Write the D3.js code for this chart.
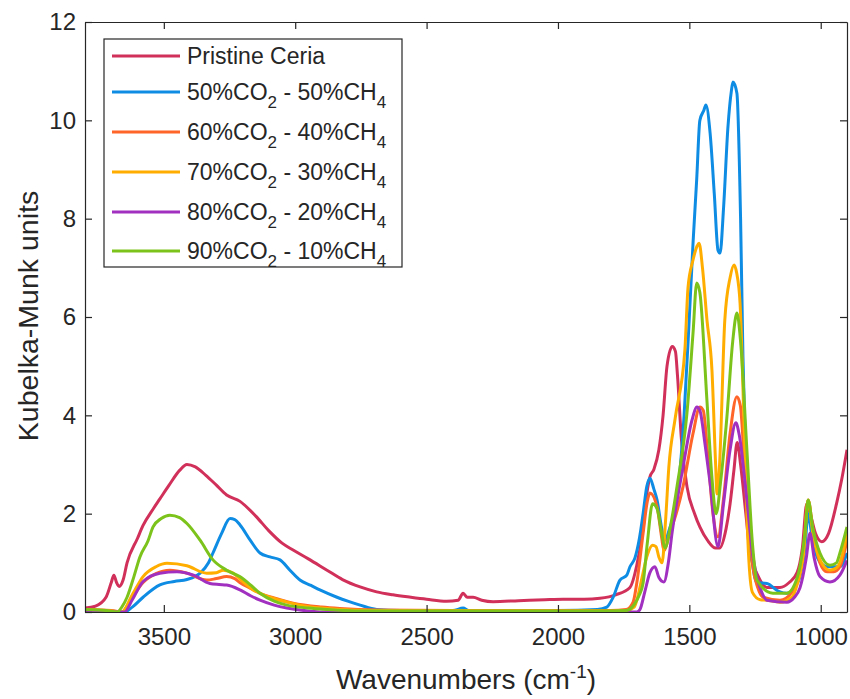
<!DOCTYPE html>
<html><head><meta charset="utf-8">
<script src="https://cdn.jsdelivr.net/npm/d3@7"></script>
<style>body{margin:0;background:#fff;} text{font-family:"Liberation Sans",Arial,sans-serif;fill:#262626;}</style>
</head><body><svg id="c" width="850" height="699"></svg>
<script>
// ---- data ----
const seriesNames = ["Pristine Ceria","50%CO2 - 50%CH4","60%CO2 - 40%CH4","70%CO2 - 30%CH4","80%CO2 - 20%CH4","90%CO2 - 10%CH4"];
const seriesColors = ["#D0305A","#0E8CE4","#FF6428","#FFAE00","#A130C0","#7CC31C"];
const xTicks = [3500,3000,2500,2000,1500,1000];
const yTicks = [0,2,4,6,8,10,12];

const pristineWn = [3800,3760,3720,3700,3690,3680,3670,3655,3640,3600,3580,3540,3515,3480,3440,3412,3380,3340,3300,3261,3210,3150,3100,3050,3008,2950,2879,2820,2753,2690,2628,2560,2500,2424,2380,2361,2345,2323,2290,2247,2150,2050,1981,1900,1840,1780,1726,1700,1676,1662,1650,1635,1616,1600,1585,1565,1553,1545,1530,1509,1480,1460,1430,1400,1385,1360,1345,1330,1318,1305,1285,1269,1240,1205,1155,1120,1090,1070,1053,1040,1020,996,970,940,920,900];
const pristineVal = [0.08,0.12,0.3,0.6,0.75,0.6,0.52,0.65,1.0,1.5,1.75,2.1,2.3,2.58,2.88,3.0,2.95,2.78,2.58,2.38,2.25,1.95,1.65,1.4,1.26,1.08,0.85,0.66,0.51,0.41,0.35,0.3,0.26,0.22,0.24,0.38,0.3,0.3,0.24,0.21,0.23,0.25,0.26,0.26,0.28,0.35,0.5,0.95,1.7,2.4,2.75,2.9,3.3,4.0,5.0,5.4,5.3,4.8,3.5,2.55,2.0,1.73,1.45,1.3,1.3,1.7,2.2,2.9,3.45,3.0,2.0,1.2,0.75,0.5,0.5,0.6,0.8,1.3,2.2,2.0,1.6,1.43,1.6,2.2,2.7,3.3];

const co50Wn = [3800,3700,3650,3620,3579,3515,3460,3412,3362,3330,3313,3280,3248,3230,3210,3170,3134,3096,3058,3020,2982,2940,2906,2841,2800,2753,2690,2600,2400,2361,2340,2000,1850,1814,1790,1764,1738,1726,1707,1690,1676,1662,1650,1635,1623,1605,1593,1575,1547,1520,1500,1486,1472,1460,1445,1437,1421,1405,1391,1383,1370,1353,1340,1334,1319,1305,1296,1280,1260,1243,1205,1160,1129,1100,1079,1060,1048,1035,1014,990,976,927,900];
const co50Val = [0.04,0.02,0.0,0.1,0.3,0.55,0.62,0.66,0.79,1.0,1.2,1.6,1.9,1.88,1.77,1.45,1.2,1.12,1.06,0.85,0.65,0.54,0.45,0.3,0.22,0.14,0.05,0.03,0.03,0.08,0.03,0.03,0.05,0.1,0.3,0.65,0.75,0.92,1.1,1.5,2.0,2.55,2.72,2.5,2.28,1.7,1.46,1.7,2.3,4.0,6.0,7.5,8.8,10.0,10.2,10.31,9.74,8.5,7.36,7.3,8.2,9.87,10.6,10.78,10.55,8.0,5.2,2.5,1.0,0.6,0.58,0.42,0.38,0.5,0.72,1.3,2.0,1.6,1.12,0.95,0.92,0.92,1.2];

const co60Wn = [3800,3700,3660,3620,3579,3530,3477,3412,3337,3300,3261,3230,3211,3170,3134,3070,3008,2900,2830,2690,2400,1800,1740,1714,1700,1676,1660,1650,1623,1605,1597,1575,1550,1524,1486,1460,1447,1430,1410,1391,1370,1345,1319,1306,1290,1270,1258,1240,1220,1155,1110,1090,1065,1048,1030,1003,976,950,927,900];
const co60Val = [0.05,0.03,0.0,0.3,0.6,0.78,0.85,0.79,0.65,0.68,0.72,0.68,0.6,0.48,0.38,0.27,0.18,0.1,0.07,0.04,0.03,0.03,0.05,0.2,0.59,1.6,2.25,2.42,2.14,1.5,1.25,1.6,2.0,2.55,3.63,4.17,4.1,3.2,2.0,1.53,2.3,3.63,4.38,4.2,3.0,1.6,0.92,0.5,0.3,0.24,0.4,0.65,1.3,2.28,1.7,1.0,0.82,0.82,0.92,1.46];

const co70Wn = [3800,3700,3660,3620,3579,3530,3488,3412,3337,3300,3274,3236,3200,3160,3120,3084,3030,2982,2900,2830,2700,1800,1740,1710,1700,1680,1662,1640,1627,1616,1604,1590,1578,1553,1517,1505,1486,1470,1463,1450,1433,1414,1400,1395,1385,1365,1345,1330,1320,1307,1290,1275,1260,1230,1205,1155,1110,1090,1065,1048,1030,1003,965,940,927,900];
const co70Val = [0.05,0.02,0.0,0.35,0.72,0.92,0.99,0.94,0.79,0.8,0.85,0.79,0.62,0.45,0.35,0.28,0.2,0.14,0.08,0.05,0.03,0.02,0.03,0.1,0.24,0.7,1.12,1.36,1.33,1.12,1.0,1.9,2.95,3.97,5.33,6.6,7.16,7.45,7.5,7.0,5.94,4.92,3.0,2.4,3.0,5.94,6.8,7.06,6.9,6.28,3.5,1.2,0.4,0.25,0.24,0.2,0.3,0.55,1.2,2.28,1.6,1.06,0.85,0.9,1.0,1.6];

const co80Wn = [3800,3700,3650,3620,3579,3515,3450,3387,3325,3290,3261,3210,3170,3134,3080,3032,2950,2900,1700,1688,1670,1650,1631,1616,1597,1580,1566,1524,1490,1471,1460,1440,1421,1391,1370,1345,1323,1310,1281,1260,1243,1220,1205,1129,1100,1079,1055,1041,1025,1003,965,927,900];
const co80Val = [0.03,0.0,0.0,0.25,0.62,0.79,0.82,0.75,0.58,0.56,0.55,0.45,0.33,0.24,0.14,0.08,0.02,0.0,0.0,0.05,0.4,0.8,0.92,0.7,0.61,1.0,1.6,2.95,3.9,4.17,4.1,3.4,2.62,1.33,2.2,3.3,3.85,3.6,2.28,1.2,0.72,0.35,0.24,0.2,0.3,0.49,1.1,1.6,1.1,0.72,0.61,0.75,1.05];

const co90Wn = [3800,3720,3678,3660,3640,3615,3591,3560,3541,3510,3477,3440,3412,3362,3313,3261,3211,3170,3134,3080,3032,2950,2879,2750,1800,1740,1710,1690,1676,1660,1640,1623,1605,1593,1570,1547,1509,1486,1472,1460,1433,1415,1398,1380,1357,1335,1319,1305,1281,1260,1243,1182,1129,1100,1079,1060,1048,1030,1003,965,940,927,900];
const co90Val = [0.05,0.03,0.0,0.1,0.3,0.7,1.12,1.45,1.73,1.9,1.97,1.92,1.8,1.46,1.06,0.85,0.72,0.55,0.38,0.22,0.14,0.08,0.05,0.02,0.02,0.03,0.15,0.35,0.59,1.4,2.2,2.1,1.6,1.3,1.8,2.55,4.05,5.67,6.69,6.5,4.3,2.8,2.0,2.7,3.97,5.5,6.08,5.5,3.3,1.4,0.65,0.38,0.38,0.55,0.92,1.6,2.28,1.7,1.2,0.95,1.0,1.2,1.73];

const seriesWn = [pristineWn,co50Wn,co60Wn,co70Wn,co80Wn,co90Wn];
const seriesVal = [pristineVal,co50Val,co60Val,co70Val,co80Val,co90Val];

// ---- chart ----
const svg = d3.select("#c");
const L=85,R=847,T=22,B=612;
const x = d3.scaleLinear().domain([3800,900]).range([L,R]);
const y = d3.scaleLinear().domain([0,12]).range([B,T]);
const axisCol = "#262626";
const FONT = "'Liberation Sans',Arial,sans-serif";

svg.append("clipPath").attr("id","clip").append("rect")
  .attr("x",L).attr("y",T).attr("width",R-L).attr("height",B-T);

const line = d3.line().x(d=>x(d[0])).y(d=>y(d[1])).curve(d3.curveMonotoneX);
const g = svg.append("g").attr("clip-path","url(#clip)");
seriesNames.forEach((n,i)=>{
  const pts = seriesWn[i].map((w,j)=>[w,seriesVal[i][j]]);
  g.append("path").datum(pts).attr("d",line).attr("fill","none")
   .attr("stroke",seriesColors[i]).attr("stroke-width",3).attr("stroke-linejoin","round");
});

function styleAxis(sel){
  sel.selectAll("path.domain").attr("stroke",axisCol).attr("stroke-width",1.2);
  sel.selectAll(".tick line").attr("stroke",axisCol).attr("stroke-width",1.2);
  sel.selectAll("text").attr("fill",axisCol).style("font-size","24px").style("font-family",FONT);
}
const fmt = d3.format("d");
const xb = svg.append("g").attr("transform",`translate(0,${B})`)
  .call(d3.axisBottom(x).tickValues(xTicks).tickFormat(fmt).tickSize(-7).tickSizeOuter(0).tickPadding(16));
styleAxis(xb);
const xt = svg.append("g").attr("transform",`translate(0,${T})`)
  .call(d3.axisTop(x).tickValues(xTicks).tickSize(-7).tickSizeOuter(0).tickFormat(""));
styleAxis(xt);
const yl = svg.append("g").attr("transform",`translate(${L},0)`)
  .call(d3.axisLeft(y).tickValues(yTicks).tickFormat(fmt).tickSize(-7).tickSizeOuter(0).tickPadding(9));
styleAxis(yl);
const yr = svg.append("g").attr("transform",`translate(${R},0)`)
  .call(d3.axisRight(y).tickValues(yTicks).tickSize(-7).tickSizeOuter(0).tickFormat(""));
styleAxis(yr);

// axis labels
const xl = svg.append("text").attr("x",(L+R)/2).attr("y",689).attr("text-anchor","middle").style("font-size","28px");
xl.append("tspan").text("Wavenumbers (cm");
xl.append("tspan").attr("dy",-11).style("font-size","19px").text("-1");
xl.append("tspan").attr("dy",11).text(")");
svg.append("text").attr("transform","translate(38,316) rotate(-90)").attr("text-anchor","middle")
  .style("font-size","28.5px").text("Kubelka-Munk units");

// legend
const lg = svg.append("g");
lg.append("rect").attr("x",104).attr("y",39).attr("width",298).attr("height",228)
  .attr("fill","#fff").attr("stroke",axisCol).attr("stroke-width",1.2);
const rowY = [56,92,132,172,212,251];
seriesNames.forEach((n,i)=>{
  lg.append("line").attr("x1",112).attr("x2",180).attr("y1",rowY[i]).attr("y2",rowY[i])
    .attr("stroke",seriesColors[i]).attr("stroke-width",3);
  const t = lg.append("text").attr("x",187).attr("y",rowY[i]+8).style("font-size","23px");
  const m = n.match(/^(\d+%CO)2( - \d+%CH)4$/);
  if(m){
    t.append("tspan").text(m[1]);
    t.append("tspan").attr("dy",8).style("font-size","17px").text("2");
    t.append("tspan").attr("dy",-8).text(m[2]);
    t.append("tspan").attr("dy",8).style("font-size","17px").text("4");
  } else t.text(n);
});
</script></body></html>
